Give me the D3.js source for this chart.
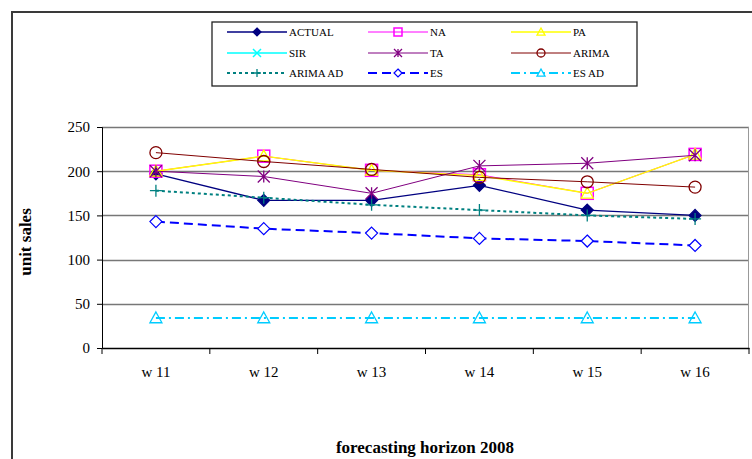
<!DOCTYPE html>
<html>
<head>
<meta charset="utf-8">
<script src="https://cdn.jsdelivr.net/npm/d3@7"></script>
<style>
  body { margin: 0; background: #fff; }
  svg text { font-family: 'Liberation Serif', 'Times New Roman', serif !important; fill: #000; }
</style>
</head>
<body>
<svg id="area" width="752" height="459"></svg>
<script>
const weeks = ['w 11', 'w 12', 'w 13', 'w 14', 'w 15', 'w 16'];
const yTicks = [0, 50, 100, 150, 200, 250];

const actual = [197, 167, 167, 184, 156, 150];
const na = [200, 217, 201, 196, 175, 219];
const pa = [200, 217, 201, 195, 175, 219];
const sir = [null, null, null, null, null, null];
const ta = [200, 194, 175, 206, 209, 218];
const arima = [221, 211, 202, 193, 188, 182];
const arimaAd = [178, 170, 162, 156, 150, 146];
const es = [143, 135, 130, 124, 121, 116];
const esAd = [34, 34, 34, 34, 34, 34];

const series = [
  { name: 'ACTUAL', values: actual, color: '#000080', width: 1.4, dash: null, marker: 'diamond', fill: '#000080' },
  { name: 'NA', values: na, color: '#ff00ff', width: 1, dash: null, marker: 'square', fill: 'none' },
  { name: 'PA', values: pa, color: '#ffff00', width: 1.4, dash: null, marker: 'triangle', fill: 'none' },
  { name: 'SIR', values: sir, color: '#00ffff', width: 1.4, dash: null, marker: 'x', fill: 'none' },
  { name: 'TA', values: ta, color: '#800080', width: 1, dash: null, marker: 'star', fill: 'none' },
  { name: 'ARIMA', values: arima, color: '#800000', width: 1, dash: null, marker: 'circle', fill: 'none' },
  { name: 'ARIMA AD', values: arimaAd, color: '#008080', width: 2, dash: '3,3', marker: 'plus', fill: 'none' },
  { name: 'ES', values: es, color: '#0000ff', width: 2, dash: '9,5', marker: 'diamond', fill: 'none' },
  { name: 'ES AD', values: esAd, color: '#00ccff', width: 2, dash: '9,4,2,4', marker: 'triangle', fill: 'none' },
];

const serif = "'Liberation Serif', 'Times New Roman', serif";
const svg = d3.select('#area');
const margin = { left: 102, right: 3, top: 127, bottom: 111 };
const plotW = 752 - margin.left - margin.right;
const plotH = 459 - margin.top - margin.bottom;

// outer frame
svg.append('rect')
  .attr('x', 12).attr('y', 12)
  .attr('width', 760).attr('height', 470)
  .attr('fill', 'none').attr('stroke', '#3a3a3a').attr('stroke-width', 2);

const x = d3.scaleBand().domain(weeks).range([0, plotW]);
const y = d3.scaleLinear().domain([0, 250]).range([plotH, 0]);

const g = svg.append('g').attr('transform', `translate(${margin.left},${margin.top})`);

// grid
g.append('g')
  .selectAll('line')
  .data(yTicks.filter((d) => d > 0))
  .join('line')
  .attr('x1', 0).attr('x2', plotW)
  .attr('y1', (d) => Math.round(y(d)) + 0.5).attr('y2', (d) => Math.round(y(d)) + 0.5)
  .attr('stroke', '#777').attr('stroke-width', 1.3);

// right border of plot
g.append('line')
  .attr('x1', plotW - 0.5).attr('x2', plotW - 0.5)
  .attr('y1', 0).attr('y2', plotH)
  .attr('stroke', '#999');

const yAxis = g.append('g')
  .call(d3.axisLeft(y).tickValues(yTicks).tickSize(5).tickPadding(7))
  .attr('font-family', serif).attr('font-size', 15);
yAxis.select('.domain').attr('stroke', '#000');

const xAxis = g.append('g')
  .attr('transform', `translate(0,${plotH})`)
  .call(d3.axisBottom(x).tickSize(0).tickPadding(18))
  .attr('font-family', serif).attr('font-size', 15);
xAxis.select('.domain').attr('stroke', '#000').attr('stroke-width', 1.3);

// category separator ticks
g.append('g')
  .selectAll('line')
  .data(d3.range(weeks.length + 1))
  .join('line')
  .attr('x1', (i) => i * x.step()).attr('x2', (i) => i * x.step())
  .attr('y1', plotH).attr('y2', plotH + 6)
  .attr('stroke', '#000');

function drawMarker(sel, type, color, fill, size) {
  const s = size;
  if (type === 'diamond') {
    sel.append('path').attr('d', `M0,${-s}L${s},0L0,${s}L${-s},0Z`)
      .attr('fill', fill === 'none' ? '#fff' : fill).attr('stroke', color).attr('stroke-width', 1.2);
  } else if (type === 'square') {
    sel.append('rect').attr('x', -s).attr('y', -s).attr('width', 2 * s).attr('height', 2 * s)
      .attr('fill', 'none').attr('stroke', color).attr('stroke-width', 1.5);
  } else if (type === 'triangle') {
    sel.append('path').attr('d', `M0,${-s}L${s},${s * 0.8}L${-s},${s * 0.8}Z`)
      .attr('fill', 'none').attr('stroke', color).attr('stroke-width', 1.3);
  } else if (type === 'x') {
    sel.append('path').attr('d', `M${-s},${-s}L${s},${s}M${-s},${s}L${s},${-s}`)
      .attr('stroke', color).attr('stroke-width', 1.5);
  } else if (type === 'star') {
    sel.append('path').attr('d', `M${-s},${-s}L${s},${s}M${-s},${s}L${s},${-s}M0,${-s}L0,${s}`)
      .attr('stroke', color).attr('stroke-width', 1.3);
  } else if (type === 'circle') {
    sel.append('circle').attr('r', s)
      .attr('fill', 'none').attr('stroke', color).attr('stroke-width', 1.3);
  } else if (type === 'plus') {
    sel.append('path').attr('d', `M${-s},0L${s},0M0,${-s}L0,${s}`)
      .attr('stroke', color).attr('stroke-width', 1.3);
  }
}

const line = d3.line()
  .defined((d) => d != null)
  .x((d, i) => x(weeks[i]) + x.bandwidth() / 2)
  .y((d) => y(d));

series.forEach((s) => {
  const sg = g.append('g');
  sg.append('path')
    .datum(s.values)
    .attr('d', line)
    .attr('fill', 'none')
    .attr('stroke', s.color)
    .attr('stroke-width', s.width)
    .attr('stroke-dasharray', s.dash);
  s.values.forEach((v, i) => {
    if (v == null) return;
    const m = sg.append('g')
      .attr('transform', `translate(${x(weeks[i]) + x.bandwidth() / 2},${y(v)})`);
    drawMarker(m, s.marker, s.color, s.fill, 6);
  });
});

// axis titles
svg.append('text')
  .attr('transform', 'translate(31,242) rotate(-90)')
  .attr('text-anchor', 'middle')
  .attr('font-family', serif)
  .style('font-size', '17px').style('font-weight', 'bold')
  .text('unit sales');

svg.append('text')
  .attr('x', 425).attr('y', 453)
  .attr('text-anchor', 'middle')
  .attr('font-family', serif)
  .style('font-size', '17px').style('font-weight', 'bold')
  .text('forecasting horizon 2008');

// legend
const legend = svg.append('g');
legend.append('rect')
  .attr('x', 212).attr('y', 22).attr('width', 425).attr('height', 64)
  .attr('fill', '#fff').attr('stroke', '#222').attr('stroke-width', 1.3);

const colX = [227, 368, 511];
const rowY = [32, 53, 73];
series.forEach((s, i) => {
  const lx = colX[i % 3];
  const ly = rowY[Math.floor(i / 3)];
  const item = legend.append('g').attr('transform', `translate(${lx},${ly})`);
  item.append('line')
    .attr('x1', 0).attr('x2', 60).attr('y1', 0).attr('y2', 0)
    .attr('stroke', s.color).attr('stroke-width', s.width)
    .attr('stroke-dasharray', s.dash);
  const m = item.append('g').attr('transform', 'translate(30,0)');
  drawMarker(m, s.marker, s.color, s.fill, 4);
  item.append('text')
    .attr('x', 62).attr('y', 4)
    .attr('font-family', serif)
    .style('font-size', '11px')
    .text(s.name);
});
</script>
</body>
</html>
